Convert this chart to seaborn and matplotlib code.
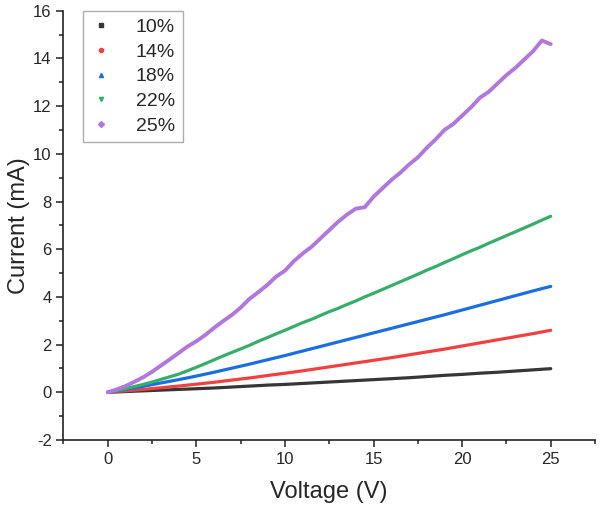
import matplotlib
matplotlib.use("Agg")
import matplotlib.pyplot as plt
from matplotlib.lines import Line2D
from matplotlib.ticker import MultipleLocator
import seaborn as sns
import pandas as pd

# ---- data ----
voltage_coarse = [0, 1, 2, 3, 4, 5, 6, 7, 8, 9, 10, 11, 12, 13, 14, 15, 16, 17,
                  18, 19, 20, 21, 22, 23, 24, 25]
current_10 = [0, 0.03, 0.06, 0.09, 0.12, 0.15, 0.18, 0.22, 0.26, 0.30, 0.33, 0.37,
              0.41, 0.45, 0.49, 0.53, 0.57, 0.61, 0.66, 0.71, 0.75, 0.80, 0.84,
              0.89, 0.94, 0.99]
current_14 = [0, 0.06, 0.12, 0.19, 0.26, 0.34, 0.42, 0.51, 0.60, 0.70, 0.80, 0.90,
              1.01, 1.12, 1.23, 1.34, 1.45, 1.57, 1.69, 1.81, 1.94, 2.07, 2.20,
              2.33, 2.46, 2.60]
current_18 = [0, 0.12, 0.25, 0.39, 0.53, 0.68, 0.84, 1.01, 1.18, 1.36, 1.54, 1.73,
              1.92, 2.11, 2.30, 2.49, 2.68, 2.87, 3.06, 3.25, 3.45, 3.65, 3.85,
              4.05, 4.25, 4.44]

voltage_fine = [0, 0.5, 1, 1.5, 2, 2.5, 3, 3.5, 4, 4.5, 5, 5.5, 6, 6.5, 7, 7.5, 8,
                8.5, 9, 9.5, 10, 10.5, 11, 11.5, 12, 12.5, 13, 13.5, 14, 14.5, 15,
                15.5, 16, 16.5, 17, 17.5, 18, 18.5, 19, 19.5, 20, 20.5, 21, 21.5,
                22, 22.5, 23, 23.5, 24, 24.5, 25]
current_22 = [0, 0.07, 0.15, 0.24, 0.33, 0.43, 0.54, 0.65, 0.76, 0.90, 1.05, 1.20,
              1.36, 1.52, 1.67, 1.82, 1.97, 2.14, 2.29, 2.45, 2.60, 2.76, 2.92,
              3.06, 3.22, 3.38, 3.52, 3.68, 3.83, 4.00, 4.15, 4.31, 4.47, 4.63,
              4.79, 4.95, 5.12, 5.27, 5.44, 5.60, 5.77, 5.93, 6.08, 6.25, 6.41,
              6.57, 6.73, 6.89, 7.05, 7.22, 7.38]
current_25 = [0, 0.12, 0.26, 0.44, 0.63, 0.86, 1.12, 1.38, 1.65, 1.92, 2.14, 2.40,
              2.70, 2.98, 3.24, 3.55, 3.92, 4.20, 4.50, 4.85, 5.10, 5.50, 5.82,
              6.10, 6.45, 6.80, 7.15, 7.45, 7.70, 7.76, 8.20, 8.55, 8.90, 9.20,
              9.55, 9.85, 10.25, 10.60, 11.00, 11.25, 11.60, 11.95, 12.35, 12.60,
              12.95, 13.30, 13.60, 13.95, 14.30, 14.75, 14.60]

labels = ["10%", "14%", "18%", "22%", "25%"]
colors = ["#363636", "#F14040", "#1A6FDF", "#37AD6B", "#B177DE"]
markers = ["s", "o", "^", "v", "D"]

series = [(voltage_coarse, current_10), (voltage_coarse, current_14),
          (voltage_coarse, current_18), (voltage_fine, current_22),
          (voltage_fine, current_25)]

frames = []
for lab, (vx, cy) in zip(labels, series):
    frames.append(pd.DataFrame({"Voltage": vx, "Current": cy, "Conc": lab}))
df = pd.concat(frames, ignore_index=True)

sns.set_style("ticks")
plt.rcParams["font.family"] = ["Liberation Sans", "DejaVu Sans"]
plt.rcParams["axes.unicode_minus"] = False

fig = plt.figure(figsize=(6.0, 5.11), dpi=100)
ax = fig.add_axes([0.1058, 0.139, 0.8859, 0.840])

widths = {"10%": 2.3, "14%": 2.3, "18%": 2.3, "22%": 2.3, "25%": 2.8}
for lab, col in zip(labels, colors):
    sub = df[df["Conc"] == lab]
    sns.lineplot(data=sub, x="Voltage", y="Current", color=col,
                 lw=widths[lab], ax=ax, legend=False, sort=False)

ax.set_xlim(-2.5, 27.5)
ax.set_ylim(-2, 16)
ax.xaxis.set_major_locator(MultipleLocator(5))
ax.xaxis.set_minor_locator(MultipleLocator(2.5))
ax.yaxis.set_major_locator(MultipleLocator(2))
ax.yaxis.set_minor_locator(MultipleLocator(1))
ax.tick_params(which="major", direction="out", length=5, width=1.1,
               labelsize=12, color="#222222")
ax.tick_params(which="minor", direction="out", length=2.8, width=1.1,
               color="#222222")
for s in ["top", "right"]:
    ax.spines[s].set_visible(False)
for s in ["left", "bottom"]:
    ax.spines[s].set_linewidth(1.2)
    ax.spines[s].set_color("#222222")

ax.set_xlabel("Voltage (V)", fontsize=17, labelpad=10)
ax.set_ylabel("Current (mA)", fontsize=17, labelpad=2)

handles = [Line2D([], [], ls="none", marker=m, color=c, markersize=3)
           for m, c in zip(markers, colors)]
leg = ax.legend(handles, labels, loc="upper left", bbox_to_anchor=(0.037, 1.0),
                borderaxespad=0.0,
                fontsize=14, frameon=True, fancybox=False, edgecolor="#999999",
                labelspacing=0.36, handlelength=1.0, handletextpad=1.3,
                borderpad=0.4, markerfirst=True)
leg.get_frame().set_linewidth(1.0)

fig.savefig("out.png", dpi=100)
